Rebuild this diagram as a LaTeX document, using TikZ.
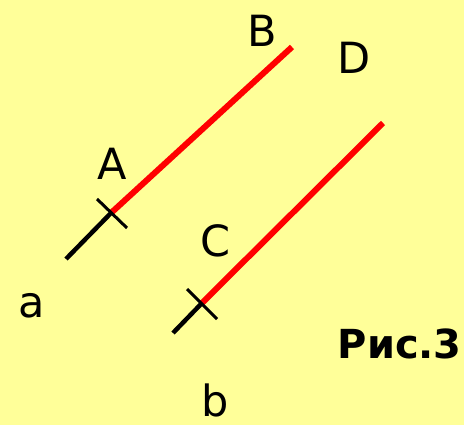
\documentclass[tikz,border=0pt]{standalone}
\usepackage{fontspec}
\setmainfont{DejaVu Sans}
\definecolor{bg}{HTML}{FFFF99}
\definecolor{seg}{HTML}{FF0000}
\begin{document}
\begin{tikzpicture}[x=1pt,y=-1pt,
  lbl/.style={font=\fontsize{43}{45}\selectfont, inner sep=0pt},
  blk/.style={line width=4.5pt, black},
  redseg/.style={line width=6pt, seg},
  tick/.style={line width=3pt, black}]
\fill[bg] (0,0) rectangle (464,425);
\useasboundingbox (0,0) rectangle (464,425);
% line a
\coordinate (a0) at (66,259);
\coordinate (A) at (111,213);
\coordinate (B) at (292,47);
\coordinate (t1) at (97,199);
\coordinate (t2) at (127,228);
\draw[blk] (a0) -- (A);
\draw[redseg] (A) -- (B);
\draw[tick] (t1) -- (t2);
% line b
\coordinate (b0) at (173,333);
\coordinate (C) at (202,303);
\coordinate (D) at (383,123);
\coordinate (u1) at (187,289);
\coordinate (u2) at (217,319);
\draw[blk] (b0) -- (C);
\draw[redseg] (C) -- (D);
\draw[tick] (u1) -- (u2);
% labels
\node[lbl] (lB) at (262,31) {B};
\node[lbl] (lD) at (354,58) {D};
\node[lbl] (lA) at (112,164) {A};
\node[lbl] (lC) at (216,241) {C};
\node[lbl] (la) at (32,306) {a};
\node[lbl] (lb) at (215,400) {b};
\node[font=\fontsize{40}{42}\selectfont\bfseries, inner sep=0pt, anchor=base east] (fig) at (462,359) {Рис.3};
\end{tikzpicture}
\end{document}
